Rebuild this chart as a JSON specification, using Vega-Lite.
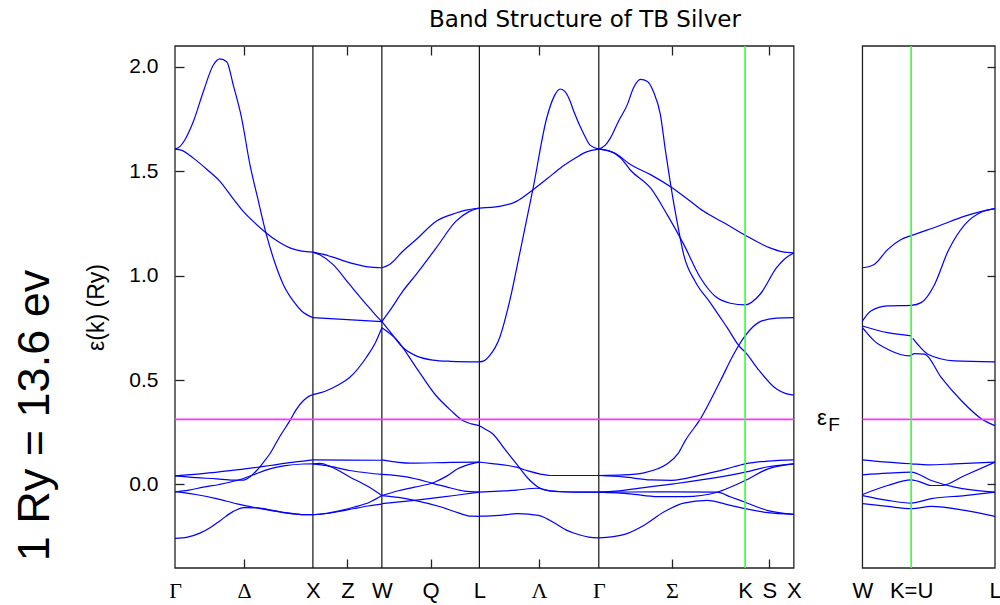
{
  "$schema": "https://vega.github.io/schema/vega-lite/v6.json",
  "width": 820,
  "height": 522,
  "autosize": {"type": "none"},
  "padding": {"left": 175, "top": 46, "right": 5, "bottom": 37},
  "background": "white",
  "config": {"view": {"stroke": null}, "axis": {"grid": false, "domain": false}},
  "title": {"text": "Band Structure of TB Silver", "font": "DejaVu Sans", "fontSize": 23, "fontWeight": "normal", "color": "black", "anchor": "middle", "offset": 13},
  "datasets": {
    "bands": [
      {"s":"g1","k":0,"e":-0.258},{"s":"g1","k":0.09,"e":-0.252},{"s":"g1","k":0.181,"e":-0.233},{"s":"g1","k":0.26,"e":-0.205},{"s":"g1","k":0.33,"e":-0.172},{"s":"g1","k":0.42,"e":-0.13},{"s":"g1","k":0.5,"e":-0.111},{"s":"g1","k":0.6,"e":-0.112},{"s":"g1","k":0.7,"e":-0.123},{"s":"g1","k":0.8,"e":-0.135},{"s":"g1","k":0.9,"e":-0.143},{"s":"g1","k":1,"e":-0.145},
      {"s":"g2","k":0,"e":-0.034},{"s":"g2","k":0.15,"e":-0.048},{"s":"g2","k":0.3,"e":-0.068},{"s":"g2","k":0.45,"e":-0.093},{"s":"g2","k":0.6,"e":-0.113},{"s":"g2","k":0.7,"e":-0.125},{"s":"g2","k":0.8,"e":-0.136},{"s":"g2","k":0.9,"e":-0.143},{"s":"g2","k":1,"e":-0.145},
      {"s":"g3","k":0,"e":-0.036},{"s":"g3","k":0.1,"e":-0.027},{"s":"g3","k":0.205,"e":-0.013},{"s":"g3","k":0.32,"e":0.0},{"s":"g3","k":0.447,"e":0.019},{"s":"g3","k":0.55,"e":0.042},{"s":"g3","k":0.688,"e":0.075},{"s":"g3","k":0.8,"e":0.09},{"s":"g3","k":0.93,"e":0.098},{"s":"g3","k":1,"e":0.099},
      {"s":"g4","k":0,"e":0.041},{"s":"g4","k":0.2,"e":0.052},{"s":"g4","k":0.4,"e":0.066},{"s":"g4","k":0.55,"e":0.078},{"s":"g4","k":0.69,"e":0.091},{"s":"g4","k":0.85,"e":0.106},{"s":"g4","k":0.93,"e":0.112},{"s":"g4","k":1,"e":0.118},
      {"s":"g5","k":0,"e":0.041},{"s":"g5","k":0.15,"e":0.033},{"s":"g5","k":0.302,"e":0.027},{"s":"g5","k":0.42,"e":0.021},{"s":"g5","k":0.495,"e":0.021},{"s":"g5","k":0.55,"e":0.04},{"s":"g5","k":0.592,"e":0.067},{"s":"g5","k":0.64,"e":0.105},{"s":"g5","k":0.688,"e":0.147},{"s":"g5","k":0.76,"e":0.23},{"s":"g5","k":0.833,"e":0.306},{"s":"g5","k":0.88,"e":0.36},{"s":"g5","k":0.93,"e":0.401},{"s":"g5","k":0.97,"e":0.422},{"s":"g5","k":1,"e":0.43},
      {"s":"g6","k":0,"e":1.606},{"s":"g6","k":0.035,"e":1.618},{"s":"g6","k":0.072,"e":1.651},{"s":"g6","k":0.133,"e":1.738},{"s":"g6","k":0.205,"e":1.881},{"s":"g6","k":0.278,"e":2.009},{"s":"g6","k":0.326,"e":2.038},{"s":"g6","k":0.375,"e":2.025},{"s":"g6","k":0.422,"e":1.914},{"s":"g6","k":0.483,"e":1.755},{"s":"g6","k":0.543,"e":1.533},{"s":"g6","k":0.6,"e":1.37},{"s":"g6","k":0.659,"e":1.206},{"s":"g6","k":0.72,"e":1.07},{"s":"g6","k":0.785,"e":0.958},{"s":"g6","k":0.857,"e":0.879},{"s":"g6","k":0.918,"e":0.831},{"s":"g6","k":1,"e":0.799},
      {"s":"g7","k":0,"e":1.606},{"s":"g7","k":0.05,"e":1.6},{"s":"g7","k":0.133,"e":1.563},{"s":"g7","k":0.23,"e":1.51},{"s":"g7","k":0.326,"e":1.452},{"s":"g7","k":0.42,"e":1.37},{"s":"g7","k":0.495,"e":1.308},{"s":"g7","k":0.575,"e":1.255},{"s":"g7","k":0.659,"e":1.206},{"s":"g7","k":0.75,"e":1.162},{"s":"g7","k":0.833,"e":1.133},{"s":"g7","k":0.92,"e":1.118},{"s":"g7","k":1,"e":1.113},
      {"s":"xw1","k":1,"e":1.113},{"s":"xw1","k":1.07,"e":1.103},{"s":"xw1","k":1.145,"e":1.089},{"s":"xw1","k":1.23,"e":1.07},{"s":"xw1","k":1.314,"e":1.054},{"s":"xw1","k":1.4,"e":1.042},{"s":"xw1","k":1.5,"e":1.038},
      {"s":"xw2","k":1,"e":1.113},{"s":"xw2","k":1.05,"e":1.1},{"s":"xw2","k":1.145,"e":1.054},{"s":"xw2","k":1.266,"e":0.958},{"s":"xw2","k":1.387,"e":0.863},{"s":"xw2","k":1.45,"e":0.815},{"s":"xw2","k":1.5,"e":0.78},
      {"s":"xw3","k":1,"e":0.799},{"s":"xw3","k":1.25,"e":0.79},{"s":"xw3","k":1.5,"e":0.78},
      {"s":"xw4","k":1,"e":0.43},{"s":"xw4","k":1.097,"e":0.449},{"s":"xw4","k":1.18,"e":0.475},{"s":"xw4","k":1.266,"e":0.512},{"s":"xw4","k":1.387,"e":0.608},{"s":"xw4","k":1.45,"e":0.675},{"s":"xw4","k":1.5,"e":0.751},
      {"s":"xw5","k":1,"e":0.118},{"s":"xw5","k":1.25,"e":0.117},{"s":"xw5","k":1.5,"e":0.116},
      {"s":"xw6","k":1,"e":0.099},{"s":"xw6","k":1.1,"e":0.09},{"s":"xw6","k":1.266,"e":0.067},{"s":"xw6","k":1.4,"e":0.055},{"s":"xw6","k":1.5,"e":0.048},
      {"s":"xw7","k":1,"e":0.099},{"s":"xw7","k":1.05,"e":0.101},{"s":"xw7","k":1.13,"e":0.085},{"s":"xw7","k":1.27,"e":0.035},{"s":"xw7","k":1.4,"e":-0.01},{"s":"xw7","k":1.5,"e":-0.053},
      {"s":"xw8","k":1,"e":-0.145},{"s":"xw8","k":1.1,"e":-0.138},{"s":"xw8","k":1.2,"e":-0.125},{"s":"xw8","k":1.3,"e":-0.108},{"s":"xw8","k":1.411,"e":-0.085},{"s":"xw8","k":1.5,"e":-0.053},
      {"s":"xw9","k":1,"e":-0.145},{"s":"xw9","k":1.1,"e":-0.139},{"s":"xw9","k":1.2,"e":-0.128},{"s":"xw9","k":1.3,"e":-0.115},{"s":"xw9","k":1.4,"e":-0.103},{"s":"xw9","k":1.5,"e":-0.094},
      {"s":"wl1","k":1.5,"e":1.038},{"s":"wl1","k":1.556,"e":1.054},{"s":"wl1","k":1.652,"e":1.117},{"s":"wl1","k":1.749,"e":1.173},{"s":"wl1","k":1.894,"e":1.261},{"s":"wl1","k":2.038,"e":1.3},{"s":"wl1","k":2.12,"e":1.315},{"s":"wl1","k":2.2071,"e":1.324},
      {"s":"wl2","k":1.5,"e":0.78},{"s":"wl2","k":1.556,"e":0.831},{"s":"wl2","k":1.652,"e":0.926},{"s":"wl2","k":1.749,"e":1.006},{"s":"wl2","k":1.894,"e":1.133},{"s":"wl2","k":2.038,"e":1.261},{"s":"wl2","k":2.135,"e":1.308},{"s":"wl2","k":2.2071,"e":1.324},
      {"s":"wl3","k":1.5,"e":0.78},{"s":"wl3","k":1.556,"e":0.735},{"s":"wl3","k":1.652,"e":0.656},{"s":"wl3","k":1.749,"e":0.616},{"s":"wl3","k":1.869,"e":0.596},{"s":"wl3","k":2.0,"e":0.59},{"s":"wl3","k":2.2071,"e":0.587},
      {"s":"wl4","k":1.5,"e":0.751},{"s":"wl4","k":1.604,"e":0.696},{"s":"wl4","k":1.749,"e":0.56},{"s":"wl4","k":1.894,"e":0.425},{"s":"wl4","k":2.0,"e":0.355},{"s":"wl4","k":2.086,"e":0.306},{"s":"wl4","k":2.15,"e":0.29},{"s":"wl4","k":2.2071,"e":0.282},
      {"s":"wl5","k":1.5,"e":0.118},{"s":"wl5","k":1.71,"e":0.102},{"s":"wl5","k":2.0,"e":0.106},{"s":"wl5","k":2.2071,"e":0.107},
      {"s":"wl6","k":1.5,"e":0.048},{"s":"wl6","k":1.688,"e":0.035},{"s":"wl6","k":1.881,"e":0.003},{"s":"wl6","k":2.0,"e":-0.017},{"s":"wl6","k":2.098,"e":-0.032},{"s":"wl6","k":2.2071,"e":-0.037},
      {"s":"wl7","k":1.5,"e":-0.053},{"s":"wl7","k":1.62,"e":-0.03},{"s":"wl7","k":1.737,"e":-0.013},{"s":"wl7","k":1.881,"e":0.011},{"s":"wl7","k":1.97,"e":0.04},{"s":"wl7","k":2.05,"e":0.075},{"s":"wl7","k":2.171,"e":0.102},{"s":"wl7","k":2.2071,"e":0.107},
      {"s":"wl8","k":1.5,"e":-0.053},{"s":"wl8","k":1.62,"e":-0.062},{"s":"wl8","k":1.737,"e":-0.076},{"s":"wl8","k":1.93,"e":-0.108},{"s":"wl8","k":2.05,"e":-0.135},{"s":"wl8","k":2.147,"e":-0.152},{"s":"wl8","k":2.2071,"e":-0.153},
      {"s":"wl9","k":1.5,"e":-0.092},{"s":"wl9","k":1.737,"e":-0.076},{"s":"wl9","k":1.93,"e":-0.061},{"s":"wl9","k":2.08,"e":-0.048},{"s":"wl9","k":2.2071,"e":-0.037},
      {"s":"lg1","k":2.2071,"e":1.324},{"s":"lg1","k":2.354,"e":1.332},{"s":"lg1","k":2.476,"e":1.356},{"s":"lg1","k":2.597,"e":1.412},{"s":"lg1","k":2.7,"e":1.465},{"s":"lg1","k":2.793,"e":1.515},{"s":"lg1","k":2.9,"e":1.562},{"s":"lg1","k":2.963,"e":1.587},{"s":"lg1","k":3.02,"e":1.6},{"s":"lg1","k":3.0731,"e":1.606},
      {"s":"lg2","k":2.2071,"e":0.587},{"s":"lg2","k":2.24,"e":0.592},{"s":"lg2","k":2.28,"e":0.616},{"s":"lg2","k":2.354,"e":0.703},{"s":"lg2","k":2.427,"e":0.879},{"s":"lg2","k":2.507,"e":1.13},{"s":"lg2","k":2.597,"e":1.42},{"s":"lg2","k":2.695,"e":1.754},{"s":"lg2","k":2.75,"e":1.86},{"s":"lg2","k":2.793,"e":1.894},{"s":"lg2","k":2.83,"e":1.88},{"s":"lg2","k":2.866,"e":1.834},{"s":"lg2","k":2.89,"e":1.79},{"s":"lg2","k":2.963,"e":1.68},{"s":"lg2","k":3.01,"e":1.625},{"s":"lg2","k":3.0731,"e":1.606},
      {"s":"lg3","k":2.2071,"e":0.282},{"s":"lg3","k":2.25,"e":0.265},{"s":"lg3","k":2.305,"e":0.242},{"s":"lg3","k":2.39,"e":0.17},{"s":"lg3","k":2.476,"e":0.099},{"s":"lg3","k":2.559,"e":0.03},{"s":"lg3","k":2.634,"e":-0.013},{"s":"lg3","k":2.72,"e":-0.032},{"s":"lg3","k":2.85,"e":-0.036},{"s":"lg3","k":3.0731,"e":-0.037},
      {"s":"lg4","k":2.2071,"e":0.107},{"s":"lg4","k":2.3,"e":0.1},{"s":"lg4","k":2.414,"e":0.091},{"s":"lg4","k":2.476,"e":0.083},{"s":"lg4","k":2.56,"e":0.065},{"s":"lg4","k":2.65,"e":0.05},{"s":"lg4","k":2.72,"e":0.043},{"s":"lg4","k":3.0731,"e":0.043},
      {"s":"lg5","k":2.2071,"e":-0.037},{"s":"lg5","k":2.35,"e":-0.032},{"s":"lg5","k":2.476,"e":-0.027},{"s":"lg5","k":2.622,"e":-0.018},{"s":"lg5","k":2.72,"e":-0.03},{"s":"lg5","k":2.9,"e":-0.037},{"s":"lg5","k":3.0731,"e":-0.037},
      {"s":"lg6","k":2.2071,"e":-0.152},{"s":"lg6","k":2.35,"e":-0.148},{"s":"lg6","k":2.487,"e":-0.14},{"s":"lg6","k":2.634,"e":-0.148},{"s":"lg6","k":2.78,"e":-0.196},{"s":"lg6","k":2.842,"e":-0.22},{"s":"lg6","k":2.903,"e":-0.235},{"s":"lg6","k":3.0,"e":-0.252},{"s":"lg6","k":3.0731,"e":-0.256},
      {"s":"gk1","k":3.0731,"e":1.606},{"s":"gk1","k":3.15,"e":1.598},{"s":"gk1","k":3.23,"e":1.565},{"s":"gk1","k":3.303,"e":1.505},{"s":"gk1","k":3.448,"e":1.42},{"s":"gk1","k":3.571,"e":1.29},{"s":"gk1","k":3.689,"e":1.15},{"s":"gk1","k":3.81,"e":0.99},{"s":"gk1","k":3.919,"e":0.9},{"s":"gk1","k":4.027,"e":0.868},{"s":"gk1","k":4.1338,"e":0.86},{"s":"gk1","k":4.243,"e":0.911},{"s":"gk1","k":4.362,"e":1.038},{"s":"gk1","k":4.42,"e":1.08},{"s":"gk1","k":4.4874,"e":1.109},
      {"s":"gk2","k":3.0731,"e":1.606},{"s":"gk2","k":3.12,"e":1.625},{"s":"gk2","k":3.158,"e":1.66},{"s":"gk2","k":3.216,"e":1.74},{"s":"gk2","k":3.279,"e":1.818},{"s":"gk2","k":3.325,"e":1.9},{"s":"gk2","k":3.375,"e":1.94},{"s":"gk2","k":3.426,"e":1.93},{"s":"gk2","k":3.47,"e":1.88},{"s":"gk2","k":3.52,"e":1.77},{"s":"gk2","k":3.556,"e":1.6},{"s":"gk2","k":3.593,"e":1.44},{"s":"gk2","k":3.643,"e":1.25},{"s":"gk2","k":3.689,"e":1.1},{"s":"gk2","k":3.774,"e":0.97},{"s":"gk2","k":3.882,"e":0.87},{"s":"gk2","k":4.004,"e":0.751},{"s":"gk2","k":4.1,"e":0.656},{"s":"gk2","k":4.1338,"e":0.635},{"s":"gk2","k":4.219,"e":0.56},{"s":"gk2","k":4.362,"e":0.457},{"s":"gk2","k":4.43,"e":0.435},{"s":"gk2","k":4.4874,"e":0.428},
      {"s":"gk3","k":3.0731,"e":1.606},{"s":"gk3","k":3.194,"e":1.585},{"s":"gk3","k":3.303,"e":1.532},{"s":"gk3","k":3.448,"e":1.484},{"s":"gk3","k":3.607,"e":1.42},{"s":"gk3","k":3.72,"e":1.365},{"s":"gk3","k":3.834,"e":1.308},{"s":"gk3","k":3.99,"e":1.25},{"s":"gk3","k":4.1338,"e":1.194},{"s":"gk3","k":4.314,"e":1.133},{"s":"gk3","k":4.4,"e":1.115},{"s":"gk3","k":4.4874,"e":1.109},
      {"s":"gk4","k":3.0731,"e":0.043},{"s":"gk4","k":3.25,"e":0.046},{"s":"gk4","k":3.4,"e":0.056},{"s":"gk4","k":3.5,"e":0.075},{"s":"gk4","k":3.57,"e":0.099},{"s":"gk4","k":3.65,"e":0.15},{"s":"gk4","k":3.7,"e":0.21},{"s":"gk4","k":3.81,"e":0.314},{"s":"gk4","k":3.955,"e":0.497},{"s":"gk4","k":4.051,"e":0.624},{"s":"gk4","k":4.1338,"e":0.712},{"s":"gk4","k":4.243,"e":0.78},{"s":"gk4","k":4.36,"e":0.797},{"s":"gk4","k":4.4874,"e":0.799},
      {"s":"gk5","k":3.0731,"e":0.043},{"s":"gk5","k":3.25,"e":0.036},{"s":"gk5","k":3.45,"e":0.022},{"s":"gk5","k":3.6,"e":0.02},{"s":"gk5","k":3.81,"e":0.045},{"s":"gk5","k":4.0,"e":0.075},{"s":"gk5","k":4.1338,"e":0.099},{"s":"gk5","k":4.3,"e":0.112},{"s":"gk5","k":4.4874,"e":0.118},
      {"s":"gk6","k":3.0731,"e":-0.037},{"s":"gk6","k":3.194,"e":-0.032},{"s":"gk6","k":3.4,"e":-0.015},{"s":"gk6","k":3.617,"e":0.003},{"s":"gk6","k":3.9,"e":0.03},{"s":"gk6","k":4.1338,"e":0.059},{"s":"gk6","k":4.3,"e":0.085},{"s":"gk6","k":4.4874,"e":0.099},
      {"s":"gk7","k":3.0731,"e":-0.037},{"s":"gk7","k":3.3,"e":-0.045},{"s":"gk7","k":3.5,"e":-0.058},{"s":"gk7","k":3.7,"e":-0.058},{"s":"gk7","k":3.931,"e":-0.037},{"s":"gk7","k":4.03,"e":-0.012},{"s":"gk7","k":4.1338,"e":0.019},{"s":"gk7","k":4.3,"e":0.075},{"s":"gk7","k":4.4874,"e":0.099},
      {"s":"gk8","k":3.0731,"e":-0.037},{"s":"gk8","k":3.3,"e":-0.036},{"s":"gk8","k":3.6,"e":-0.035},{"s":"gk8","k":3.931,"e":-0.037},{"s":"gk8","k":4.03,"e":-0.06},{"s":"gk8","k":4.1338,"e":-0.085},{"s":"gk8","k":4.3,"e":-0.125},{"s":"gk8","k":4.4874,"e":-0.143},
      {"s":"gk9","k":3.0731,"e":-0.256},{"s":"gk9","k":3.254,"e":-0.24},{"s":"gk9","k":3.399,"e":-0.196},{"s":"gk9","k":3.544,"e":-0.132},{"s":"gk9","k":3.689,"e":-0.089},{"s":"gk9","k":3.859,"e":-0.076},{"s":"gk9","k":4.027,"e":-0.1},{"s":"gk9","k":4.1338,"e":-0.116},{"s":"gk9","k":4.3,"e":-0.135},{"s":"gk9","k":4.4874,"e":-0.143},
      {"s":"r1","k":4.985,"e":1.038},{"s":"r1","k":5.07,"e":1.054},{"s":"r1","k":5.167,"e":1.125},{"s":"r1","k":5.265,"e":1.173},{"s":"r1","k":5.338,"e":1.192},{"s":"r1","k":5.532,"e":1.237},{"s":"r1","k":5.727,"e":1.285},{"s":"r1","k":5.849,"e":1.308},{"s":"r1","k":5.946,"e":1.321},
      {"s":"r2","k":4.985,"e":0.783},{"s":"r2","k":5.046,"e":0.831},{"s":"r2","k":5.167,"e":0.855},{"s":"r2","k":5.338,"e":0.858},{"s":"r2","k":5.411,"e":0.871},{"s":"r2","k":5.508,"e":0.958},{"s":"r2","k":5.605,"e":1.117},{"s":"r2","k":5.727,"e":1.245},{"s":"r2","k":5.849,"e":1.305},{"s":"r2","k":5.946,"e":1.321},
      {"s":"r3a","k":4.985,"e":0.759},{"s":"r3a","k":5.167,"e":0.727},{"s":"r3a","k":5.338,"e":0.712},
      {"s":"r3b","k":5.35,"e":0.7},{"s":"r3b","k":5.4,"e":0.66},{"s":"r3b","k":5.459,"e":0.624},{"s":"r3b","k":5.654,"e":0.592},{"s":"r3b","k":5.946,"e":0.587},
      {"s":"r4","k":4.985,"e":0.751},{"s":"r4","k":5.07,"e":0.688},{"s":"r4","k":5.167,"e":0.648},{"s":"r4","k":5.326,"e":0.616},{"s":"r4","k":5.362,"e":0.627},{"s":"r4","k":5.435,"e":0.624},{"s":"r4","k":5.557,"e":0.512},{"s":"r4","k":5.703,"e":0.401},{"s":"r4","k":5.849,"e":0.314},{"s":"r4","k":5.946,"e":0.282},
      {"s":"r5","k":4.985,"e":0.118},{"s":"r5","k":5.167,"e":0.107},{"s":"r5","k":5.338,"e":0.099},{"s":"r5","k":5.459,"e":0.094},{"s":"r5","k":5.654,"e":0.099},{"s":"r5","k":5.946,"e":0.107},
      {"s":"r6","k":4.985,"e":0.046},{"s":"r6","k":5.167,"e":0.054},{"s":"r6","k":5.338,"e":0.059},{"s":"r6","k":5.484,"e":0.019},{"s":"r6","k":5.654,"e":-0.013},{"s":"r6","k":5.946,"e":-0.037},
      {"s":"r7","k":4.985,"e":-0.048},{"s":"r7","k":5.167,"e":-0.005},{"s":"r7","k":5.338,"e":0.022},{"s":"r7","k":5.386,"e":0.016},{"s":"r7","k":5.484,"e":-0.005},{"s":"r7","k":5.557,"e":-0.005},{"s":"r7","k":5.727,"e":0.043},{"s":"r7","k":5.946,"e":0.107},
      {"s":"r8","k":4.985,"e":-0.053},{"s":"r8","k":5.167,"e":-0.076},{"s":"r8","k":5.338,"e":-0.089},{"s":"r8","k":5.484,"e":-0.068},{"s":"r8","k":5.727,"e":-0.053},{"s":"r8","k":5.946,"e":-0.037},
      {"s":"r9","k":4.985,"e":-0.092},{"s":"r9","k":5.167,"e":-0.105},{"s":"r9","k":5.338,"e":-0.116},{"s":"r9","k":5.484,"e":-0.105},{"s":"r9","k":5.727,"e":-0.124},{"s":"r9","k":5.946,"e":-0.153}
    ],
    "frames": [{"x1":0,"x2":4.4874,"y1":-0.4,"y2":2.1},{"x1":4.985,"x2":5.946,"y1":-0.4,"y2":2.1}],
    "vlines": [{"k":1},{"k":1.5},{"k":2.2071},{"k":3.0731}],
    "glines": [{"k":4.1338},{"k":5.338}],
    "ef": [{"x1":0,"x2":4.4874,"e":0.312},{"x1":4.985,"x2":5.946,"e":0.312}],
    "eps": [{"t":"ε","k":4.69,"e":0.317}],
    "sub": [{"t":"F","k":4.779,"e":0.284}]
  },
  "layer": [
    {
      "data": {"name": "frames"},
      "mark": {"type": "rect", "fillOpacity": 0, "stroke": "#222222", "strokeWidth": 1.3},
      "encoding": {
        "x": {"field": "x1", "type": "quantitative", "scale": {"domain": [0, 5.946], "nice": false, "zero": false},
          "axis": {"orient": "top", "values": [0.5, 1.25, 1.8536, 2.6401, 3.6034, 4.3106], "labels": false, "tickSize": -9, "tickColor": "#222222", "tickWidth": 1.3, "title": null, "domain": false, "grid": false}},
        "x2": {"field": "x2"},
        "y": {"field": "y1", "type": "quantitative", "scale": {"domain": [-0.4, 2.1], "nice": false, "zero": false},
          "axis": {"orient": "right", "values": [0, 0.5, 1, 1.5, 2], "labels": false, "tickSize": -8, "tickColor": "#222222", "tickWidth": 1.3, "title": null, "domain": false, "grid": false}},
        "y2": {"field": "y2"}
      }
    },
    {
      "data": {"name": "vlines"},
      "mark": {"type": "rule", "color": "#111111", "strokeWidth": 1.2},
      "encoding": {"x": {"field": "k", "type": "quantitative", "axis": null}}
    },
    {
      "data": {"name": "bands"},
      "mark": {"type": "line", "color": "#0000ff", "strokeWidth": 1.2, "interpolate": "monotone"},
      "encoding": {
        "x": {"field": "k", "type": "quantitative", "scale": {"domain": [0, 5.946], "nice": false, "zero": false},
          "axis": {"orient": "bottom", "values": [0, 0.5, 1, 1.25, 1.5, 1.8536, 2.2071, 2.6401, 3.0731, 3.6034, 4.1338, 4.3106, 4.4874, 4.985, 5.338, 5.946],
            "labelExpr": "datum.value < 0.1 ? 'Γ' : datum.value < 0.7 ? 'Δ' : datum.value < 1.1 ? 'X' : datum.value < 1.3 ? 'Z' : datum.value < 1.6 ? 'W' : datum.value < 2 ? 'Q' : datum.value < 2.3 ? 'L' : datum.value < 2.8 ? 'Λ' : datum.value < 3.2 ? 'Γ' : datum.value < 3.8 ? 'Σ' : datum.value < 4.2 ? 'K' : datum.value < 4.4 ? 'S' : datum.value < 4.6 ? 'X' : datum.value < 5.1 ? 'W' : datum.value < 5.5 ? 'K=U' : 'L'",
            "labelFont": {"condition": {"test": "indexof([0, 0.5, 2.6401, 3.0731, 3.6034], datum.value) >= 0", "value": "Liberation Serif"}, "value": "Liberation Sans"},
            "labelFontSize": 22, "labelColor": "black", "labelPadding": 21, "labelOverlap": false, "labelFlush": false, "labelBound": false,
            "tickSize": -9, "tickColor": "#222222", "tickWidth": 1.3,
            "tickOpacity": {"condition": {"test": "indexof([0.5, 1.25, 1.8536, 2.6401, 3.6034, 4.3106], datum.value) >= 0", "value": 1}, "value": 0},
            "title": null, "domain": false, "grid": false}},
        "y": {"field": "e", "type": "quantitative", "scale": {"domain": [-0.4, 2.1], "nice": false, "zero": false},
          "axis": {"orient": "left", "values": [0, 0.5, 1, 1.5, 2], "format": ".1f", "labelFont": "Liberation Sans", "labelFontSize": 21, "labelColor": "black", "labelPadding": 26,
            "tickSize": -9, "tickColor": "#222222", "tickWidth": 1.3,
            "title": "ε(k) (Ry)", "titleFont": "Liberation Sans", "titleFontSize": 23, "titleFontWeight": "normal", "titleColor": "black", "titlePadding": 20, "domain": false, "grid": false}},
        "detail": {"field": "s"}
      }
    },
    {
      "data": {"name": "ef"},
      "mark": {"type": "rule", "color": "#ff33ff", "strokeWidth": 1.8},
      "encoding": {
        "x": {"field": "x1", "type": "quantitative", "axis": null},
        "x2": {"field": "x2"},
        "y": {"field": "e", "type": "quantitative",
          "axis": {"orient": "left", "labels": false, "ticks": false, "domain": false, "grid": false, "title": "1 Ry = 13.6 ev", "titleFont": "Liberation Sans", "titleFontSize": 45, "titleFontWeight": "normal", "titleColor": "black", "titlePadding": 118, "titleY": 369}}
      }
    },
    {
      "data": {"name": "glines"},
      "mark": {"type": "rule", "color": "#33ff33", "strokeWidth": 1.6},
      "encoding": {"x": {"field": "k", "type": "quantitative", "axis": null}}
    },
    {
      "data": {"name": "eps"},
      "mark": {"type": "text", "font": "Liberation Sans", "fontSize": 22, "color": "black", "baseline": "middle", "align": "center"},
      "encoding": {"x": {"field": "k", "type": "quantitative", "axis": null}, "y": {"field": "e", "type": "quantitative", "axis": null}, "text": {"field": "t"}}
    },
    {
      "data": {"name": "sub"},
      "mark": {"type": "text", "font": "Liberation Sans", "fontSize": 19, "color": "black", "baseline": "middle", "align": "center"},
      "encoding": {"x": {"field": "k", "type": "quantitative", "axis": null}, "y": {"field": "e", "type": "quantitative", "axis": null}, "text": {"field": "t"}}
    }
  ],
  "resolve": {"axis": {"x": "independent", "y": "independent"}}
}
